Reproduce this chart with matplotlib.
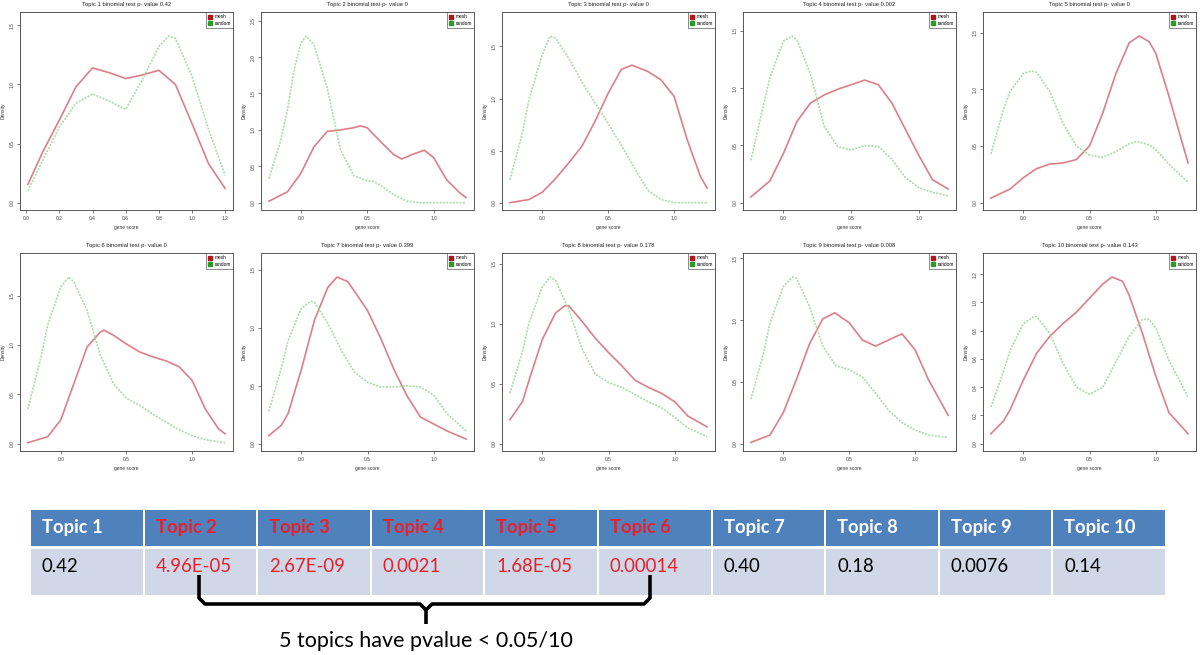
import matplotlib
matplotlib.use("Agg")
import matplotlib.pyplot as plt
from matplotlib.lines import Line2D
from matplotlib.patches import Rectangle
from matplotlib.ticker import MultipleLocator

# ---------------- data ----------------
t1_x_mesh = [0.01, 0.1, 0.2, 0.3, 0.4, 0.5, 0.6, 0.7, 0.8, 0.9, 1.0, 1.1, 1.2]
t1_mesh = [0.155, 0.43, 0.70, 0.98, 1.14, 1.10, 1.05, 1.08, 1.12, 1.00, 0.67, 0.33, 0.12]
t1_x_rand = [0.01, 0.1, 0.2, 0.3, 0.4, 0.5, 0.6, 0.7, 0.8, 0.86, 0.9, 1.0, 1.1, 1.2]
t1_rand = [0.10, 0.36, 0.64, 0.84, 0.92, 0.86, 0.79, 1.04, 1.32, 1.41, 1.39, 1.07, 0.62, 0.23]

t2_x_mesh = [-0.24, -0.1, 0.0, 0.1, 0.2, 0.3, 0.4, 0.45, 0.5, 0.6, 0.7, 0.76, 0.85, 0.93, 1.0, 1.1, 1.2, 1.245]
t2_mesh = [0.02, 0.15, 0.40, 0.77, 0.98, 1.00, 1.03, 1.055, 1.03, 0.84, 0.66, 0.60, 0.67, 0.72, 0.62, 0.31, 0.13, 0.07]
t2_x_rand = [-0.24, -0.15, -0.1, -0.05, 0.0, 0.04, 0.1, 0.2, 0.3, 0.4, 0.5, 0.55, 0.6, 0.7, 0.8, 0.9, 1.0, 1.245]
t2_rand = [0.33, 0.86, 1.28, 1.83, 2.19, 2.29, 2.17, 1.57, 0.72, 0.37, 0.30, 0.29, 0.24, 0.11, 0.02, 0.0, 0.0, 0.0]

t3_x_mesh = [-0.245, -0.1, 0.0, 0.1, 0.2, 0.3, 0.4, 0.5, 0.6, 0.68, 0.8, 0.9, 1.0, 1.1, 1.2, 1.25]
t3_mesh = [0.0, 0.03, 0.10, 0.23, 0.38, 0.54, 0.78, 1.05, 1.28, 1.32, 1.26, 1.18, 1.02, 0.60, 0.25, 0.14]
t3_x_rand = [-0.245, -0.15, -0.1, 0.0, 0.06, 0.1, 0.2, 0.3, 0.4, 0.5, 0.6, 0.7, 0.8, 0.9, 1.0, 1.25]
t3_rand = [0.22, 0.67, 0.99, 1.42, 1.60, 1.58, 1.39, 1.16, 0.96, 0.76, 0.55, 0.33, 0.12, 0.03, 0.0, 0.0]

t4_x_mesh = [-0.24, -0.1, 0.0, 0.1, 0.2, 0.3, 0.4, 0.5, 0.6, 0.7, 0.8, 0.9, 1.0, 1.1, 1.215]
t4_mesh = [0.05, 0.19, 0.43, 0.71, 0.87, 0.94, 0.99, 1.03, 1.07, 1.03, 0.87, 0.64, 0.41, 0.20, 0.12]
t4_x_rand = [-0.24, -0.15, -0.1, 0.0, 0.064, 0.1, 0.2, 0.3, 0.4, 0.5, 0.6, 0.7, 0.8, 0.9, 1.0, 1.1, 1.215]
t4_rand = [0.37, 0.84, 1.09, 1.41, 1.455, 1.42, 1.12, 0.67, 0.49, 0.46, 0.50, 0.49, 0.38, 0.22, 0.13, 0.09, 0.06]

t5_x_mesh = [-0.245, -0.1, 0.0, 0.1, 0.2, 0.3, 0.4, 0.5, 0.6, 0.7, 0.8, 0.876, 0.95, 1.0, 1.1, 1.2, 1.245]
t5_mesh = [0.04, 0.12, 0.22, 0.30, 0.34, 0.35, 0.38, 0.50, 0.79, 1.14, 1.41, 1.47, 1.42, 1.32, 0.94, 0.53, 0.35]
t5_x_rand = [-0.245, -0.15, -0.1, 0.0, 0.06, 0.1, 0.2, 0.3, 0.4, 0.5, 0.6, 0.7, 0.8, 0.86, 0.95, 1.0, 1.1, 1.2, 1.245]
t5_rand = [0.43, 0.82, 0.98, 1.14, 1.16, 1.15, 0.98, 0.70, 0.50, 0.42, 0.40, 0.45, 0.52, 0.54, 0.51, 0.47, 0.34, 0.23, 0.18]

t6_x_mesh = [-0.25, -0.1, 0.0, 0.1, 0.2, 0.3, 0.33, 0.4, 0.5, 0.6, 0.7, 0.8, 0.9, 1.0, 1.1, 1.2, 1.25]
t6_mesh = [0.01, 0.07, 0.24, 0.61, 0.98, 1.13, 1.15, 1.10, 1.01, 0.93, 0.88, 0.84, 0.78, 0.64, 0.35, 0.15, 0.10]
t6_x_rand = [-0.25, -0.15, -0.1, 0.0, 0.06, 0.1, 0.2, 0.3, 0.4, 0.5, 0.6, 0.7, 0.8, 0.9, 1.0, 1.1, 1.25]
t6_rand = [0.35, 0.88, 1.20, 1.59, 1.69, 1.64, 1.35, 0.90, 0.61, 0.46, 0.39, 0.30, 0.22, 0.14, 0.08, 0.04, 0.01]

t7_x_mesh = [-0.245, -0.15, -0.1, 0.0, 0.1, 0.2, 0.27, 0.35, 0.4, 0.5, 0.6, 0.7, 0.8, 0.9, 1.0, 1.1, 1.245]
t7_mesh = [0.07, 0.16, 0.26, 0.64, 1.07, 1.35, 1.44, 1.40, 1.32, 1.15, 0.91, 0.64, 0.41, 0.23, 0.17, 0.11, 0.04]
t7_x_rand = [-0.245, -0.15, -0.1, 0.0, 0.07, 0.1, 0.2, 0.3, 0.4, 0.5, 0.6, 0.7, 0.8, 0.9, 1.0, 1.1, 1.245]
t7_rand = [0.28, 0.66, 0.89, 1.17, 1.23, 1.22, 1.04, 0.81, 0.62, 0.53, 0.49, 0.49, 0.50, 0.49, 0.42, 0.26, 0.11]

t8_x_mesh = [-0.245, -0.15, -0.1, 0.0, 0.1, 0.17, 0.2, 0.3, 0.4, 0.5, 0.6, 0.7, 0.8, 0.9, 1.0, 1.1, 1.245]
t8_mesh = [0.20, 0.35, 0.53, 0.87, 1.09, 1.15, 1.15, 1.02, 0.88, 0.76, 0.65, 0.53, 0.47, 0.42, 0.35, 0.23, 0.14]
t8_x_rand = [-0.245, -0.15, -0.1, 0.0, 0.06, 0.1, 0.2, 0.3, 0.4, 0.5, 0.6, 0.7, 0.8, 0.9, 1.0, 1.1, 1.245]
t8_rand = [0.42, 0.77, 1.01, 1.31, 1.39, 1.36, 1.12, 0.79, 0.58, 0.51, 0.47, 0.41, 0.35, 0.30, 0.22, 0.13, 0.06]

t9_x_mesh = [-0.245, -0.1, 0.0, 0.1, 0.2, 0.3, 0.39, 0.5, 0.6, 0.7, 0.8, 0.9, 1.0, 1.1, 1.25]
t9_mesh = [0.01, 0.07, 0.25, 0.52, 0.81, 1.01, 1.06, 0.98, 0.84, 0.79, 0.84, 0.89, 0.76, 0.52, 0.23]
t9_x_rand = [-0.245, -0.15, -0.1, 0.0, 0.07, 0.1, 0.2, 0.3, 0.4, 0.5, 0.6, 0.7, 0.8, 0.9, 1.0, 1.1, 1.25]
t9_rand = [0.36, 0.73, 0.98, 1.27, 1.35, 1.34, 1.11, 0.79, 0.63, 0.60, 0.54, 0.41, 0.27, 0.17, 0.11, 0.07, 0.05]

t10_x_mesh = [-0.245, -0.15, -0.1, 0.0, 0.1, 0.2, 0.3, 0.4, 0.5, 0.6, 0.67, 0.75, 0.8, 0.9, 1.0, 1.1, 1.245]
t10_mesh = [0.07, 0.16, 0.24, 0.45, 0.64, 0.76, 0.85, 0.93, 1.03, 1.13, 1.18, 1.15, 1.05, 0.78, 0.48, 0.22, 0.07]
t10_x_rand = [-0.245, -0.15, -0.1, 0.0, 0.08, 0.1, 0.2, 0.3, 0.4, 0.5, 0.6, 0.7, 0.8, 0.9, 0.95, 1.0, 1.1, 1.245]
t10_rand = [0.26, 0.51, 0.66, 0.85, 0.90, 0.90, 0.78, 0.57, 0.40, 0.35, 0.40, 0.58, 0.76, 0.88, 0.88, 0.82, 0.59, 0.33]

panel_pvalues = ["0.42", "0", "0", "0.002", "0", "0", "0.399", "0.178", "0.008", "0.143"]
x_tick_steps = [0.2, 0.5, 0.5, 0.5, 0.5, 0.5, 0.5, 0.5, 0.5, 0.5]
y_tick_steps = [0.5, 0.5, 0.5, 0.5, 0.5, 0.5, 0.5, 0.5, 0.5, 0.2]

topics = ["Topic 1", "Topic 2", "Topic 3", "Topic 4", "Topic 5",
          "Topic 6", "Topic 7", "Topic 8", "Topic 9", "Topic 10"]
table_pvalues = ["0.42", "4.96E-05", "2.67E-09", "0.0021", "1.68E-05",
                 "0.00014", "0.40", "0.18", "0.0076", "0.14"]
significant = [False, True, True, True, True, True, False, False, False, False]
summary_text = "5 topics have pvalue < 0.05/10"

mesh_series = [(t1_x_mesh, t1_mesh), (t2_x_mesh, t2_mesh), (t3_x_mesh, t3_mesh),
               (t4_x_mesh, t4_mesh), (t5_x_mesh, t5_mesh), (t6_x_mesh, t6_mesh),
               (t7_x_mesh, t7_mesh), (t8_x_mesh, t8_mesh), (t9_x_mesh, t9_mesh),
               (t10_x_mesh, t10_mesh)]
rand_series = [(t1_x_rand, t1_rand), (t2_x_rand, t2_rand), (t3_x_rand, t3_rand),
               (t4_x_rand, t4_rand), (t5_x_rand, t5_rand), (t6_x_rand, t6_rand),
               (t7_x_rand, t7_rand), (t8_x_rand, t8_rand), (t9_x_rand, t9_rand),
               (t10_x_rand, t10_rand)]

# ---------------- figure ----------------
W, H = 1200, 655
fig = plt.figure(figsize=(W / 100, H / 100), dpi=100)
fig.patch.set_facecolor("white")
plt.rcParams["font.family"] = ["Liberation Sans", "DejaVu Sans"]

MESH_COLOR = "#dc7f86"
RAND_COLOR = "#a8dca8"
FRAME = "#555555"

panel_lefts = [20, 261, 502, 743, 983]
panel_w = 213
row_tops = [12, 253]
panel_h = 198

for k in range(10):
    row, col = divmod(k, 5)
    left = panel_lefts[col]
    top = row_tops[row]
    ax = fig.add_axes([left / W, 1 - (top + panel_h) / H, panel_w / W, panel_h / H])
    xm, ym = mesh_series[k]
    xr, yr = rand_series[k]
    ax.plot(xm, ym, color=MESH_COLOR, lw=1.2, solid_joinstyle="round")
    ax.plot(xr, yr, color=RAND_COLOR, lw=1.2, linestyle=(0, (1.2, 0.8)))
    xmin = min(min(xm), min(xr))
    xmax = max(max(xm), max(xr))
    span = xmax - xmin
    ax.set_xlim(xmin - 0.04 * span, xmax + 0.04 * span)
    top_val = 1.1 * max(max(ym), max(yr))
    ax.set_ylim(-0.04 * top_val, top_val * 1.04)
    ax.xaxis.set_major_locator(MultipleLocator(x_tick_steps[k]))
    ax.yaxis.set_major_locator(MultipleLocator(y_tick_steps[k]))
    ax.xaxis.set_major_formatter(plt.FuncFormatter(lambda v, p: f"{v:.1f}"))
    ax.yaxis.set_major_formatter(plt.FuncFormatter(lambda v, p: f"{v:.1f}"))
    ax.tick_params(labelsize=3.5, length=2, width=0.5, colors="#444444", pad=2)
    for lab in ax.get_yticklabels():
        lab.set_rotation(90)
        lab.set_va("center")
    for sp in ax.spines.values():
        sp.set_color(FRAME)
        sp.set_linewidth(0.7)
    ax.set_title(f"Topic {k + 1} binomial test p- value {panel_pvalues[k]}",
                 fontsize=4.2, pad=4, color="#222222")
    ax.set_xlabel("gene score", fontsize=3.5, labelpad=3, color="#333333")
    ax.set_ylabel("Density", fontsize=3.5, labelpad=3, color="#333333")
    handles = [Line2D([], [], marker="s", color="#b01818", linestyle="none", markersize=2.6),
               Line2D([], [], marker="s", color="#2a9a2a", linestyle="none", markersize=2.6)]
    leg = ax.legend(handles, ["mesh", "random"], loc="upper right", fontsize=3.4,
                    frameon=True, fancybox=False, borderaxespad=0.0,
                    handlelength=0.8, handletextpad=0.5, borderpad=0.5,
                    labelspacing=0.3)
    leg.get_frame().set_edgecolor("#333333")
    leg.get_frame().set_linewidth(0.5)

# ---------------- table ----------------
tab_left, tab_right, tab_top, tab_bottom = 30, 1166, 510, 595
tax = fig.add_axes([tab_left / W, 1 - tab_bottom / H,
                    (tab_right - tab_left) / W, (tab_bottom - tab_top) / H])
tax.set_xlim(0, len(topics))
tax.set_ylim(0, tab_bottom - tab_top)
tax.axis("off")
gap = 0.009
HEADER_BLUE = "#4f81bd"
CELL_BLUE = "#d0d8e8"
RED = "#e8202a"
for i, name in enumerate(topics):
    tax.add_patch(Rectangle((i + gap, 49), 1 - 2 * gap, 36, facecolor=HEADER_BLUE,
                            edgecolor="none"))
    tax.add_patch(Rectangle((i + gap, 0), 1 - 2 * gap, 46, facecolor=CELL_BLUE,
                            edgecolor="none"))
    tax.text(i + 0.105, 67.5, name, fontsize=13.2, fontweight="bold",
             color=RED if significant[i] else "white", va="center", ha="left",
             family=["Lato", "DejaVu Sans"])
    tax.text(i + 0.105, 29, table_pvalues[i], fontsize=13.4,
             color=RED if significant[i] else "black", va="center", ha="left",
             family=["Lato", "DejaVu Sans"])

# ---------------- bracket + note ----------------
oax = fig.add_axes([0, 0, 1, 1])
oax.set_xlim(0, W)
oax.set_ylim(H, 0)
oax.axis("off")
bx_left, bx_right, bx_mid = 199, 650, 426
by_top, by_line, by_tip = 575, 604, 624
r = 6
oax.plot([bx_left, bx_left, bx_left + r, bx_mid - r, bx_mid, bx_mid],
         [by_top, by_line - r, by_line, by_line, by_line + r, by_tip],
         color="black", lw=2.6, solid_capstyle="butt", solid_joinstyle="round")
oax.plot([bx_mid, bx_mid + r, bx_right - r, bx_right, bx_right],
         [by_line + r, by_line, by_line, by_line - r, by_top],
         color="black", lw=2.6, solid_capstyle="butt", solid_joinstyle="round")
oax.text(bx_mid, 641, summary_text, fontsize=15.5, ha="center", va="center",
         color="black", family=["Lato", "DejaVu Sans"])

fig.savefig("out.png", dpi=100, facecolor="white")
